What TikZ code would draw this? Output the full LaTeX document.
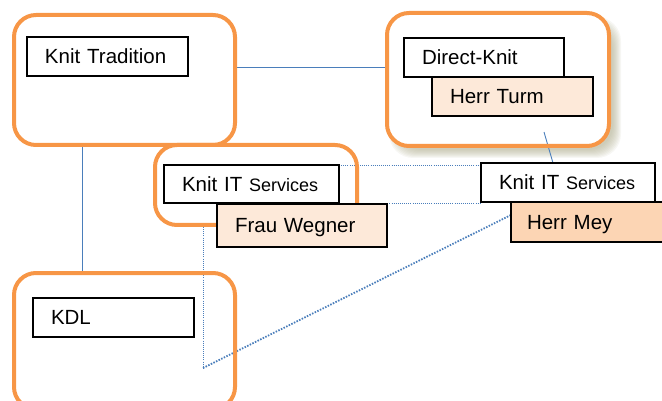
\documentclass[tikz,border=0pt]{standalone}
\usepackage{fontspec}
\setmainfont{Liberation Sans}
\usetikzlibrary{shadows}

\definecolor{frameorange}{HTML}{F79646}
\definecolor{linkblue}{HTML}{4A7EBB}
\definecolor{paleorange}{HTML}{FDE9D9}
\definecolor{lightorange}{HTML}{FCD5B4}
\definecolor{shadowc}{RGB}{170,168,135}

\pgfdeclarelayer{bg}
\pgfdeclarelayer{wires}
\pgfsetlayers{bg,wires,main}

\newcommand\boxfont{\fontsize{20.5}{24}\selectfont}
\newcommand\minorword[1]{{\fontsize{18}{22}\selectfont #1}}

\tikzset{
  frame/.style={draw=frameorange, line width=4pt, rounded corners=22pt,
    outer sep=0pt, inner sep=0pt, anchor=north west},
  namebox/.style={draw=black, line width=1.1pt, fill=white, anchor=north west,
    inner xsep=18pt, inner ysep=0pt, align=left, font=\boxfont, outer sep=0pt,
    text height=14.7pt, text depth=0pt,
    drop shadow={shadow xshift=1pt, shadow yshift=-1pt, fill=black!70, opacity=1}},
  link/.style={draw=linkblue, line width=0.9pt},
  thindots/.style={draw=linkblue, line width=0.7pt, dash pattern=on 0.9pt off 1.2pt},
  densedots/.style={draw=linkblue, line width=1.8pt, dash pattern=on 1.5pt off 1.4pt},
}

\begin{document}
\begin{tikzpicture}[x=1pt, y=-1pt]
\useasboundingbox (0,0) rectangle (662,401);
\clip (0,0) rectangle (662,401);

% organisation frames
\node[frame, minimum width=221pt, minimum height=130pt] (c1) at (14,15) {};
\node[frame, minimum width=222pt, minimum height=133pt] (c2) at (387,13) {};
\node[frame, minimum width=202pt, minimum height=80pt] (c3) at (155,145) {};
\node[frame, minimum width=221pt, minimum height=136pt] (c4) at (14,273) {};

% company and person labels
\node[namebox, text width=125pt, minimum height=39pt] (kt) at (27,37) {Knit Tradition};
\node[namebox, text width=124pt, minimum height=39pt] (dk) at (404,38) {Direct-Knit};
\node[namebox, fill=paleorange, text width=125pt, minimum height=39pt] (ht) at (432,77) {Herr Turm};
\node[namebox, text width=139pt, minimum height=38pt] (kitm) at (164,165) {Knit IT \minorword{Services}};
\node[namebox, fill=paleorange, text width=134pt, minimum height=43pt] (fw) at (217,204) {Frau Wegner};
\node[namebox, text width=138pt, minimum height=39pt] (kitr) at (481,163) {Knit IT \minorword{Services}};
\node[namebox, fill=lightorange, inner xsep=16pt, text width=140pt, minimum height=40pt] (hm) at (511,202) {Herr Mey};
\node[namebox, text width=125pt, minimum height=39pt] (kdl) at (33,298) {KDL};

% soft shadow under the Direct-Knit frame
\begin{pgfonlayer}{bg}
  \foreach \k in {0,...,8}
    \fill[shadowc, opacity=0.09, rounded corners=24pt] (397-\k,25-\k) rectangle (613+\k,150+\k);
  \fill[white, rounded corners=22pt] (c2.north west) rectangle (c2.south east);
\end{pgfonlayer}

% connectors
\begin{pgfonlayer}{wires}
  \coordinate (ktout) at ([yshift=13pt]c1.east);
  \draw[link] (ktout) -- (ktout -| c2.west);
  \coordinate (ktdown) at ([xshift=-42.5pt]c1.south);
  \draw[link] (ktdown) -- (ktdown |- c4.north);
  \coordinate (dkout) at ([xshift=46pt,yshift=14pt]c2.south);
  \draw[link] (dkout) -- ([xshift=-15pt]kitr.north);
  \draw[thindots] (kitm.north east) -- (kitm.north east -| kitr.west);
  \draw[thindots] (kitm.south east) -- (kitm.south east -| kitr.west);
  \coordinate (turn) at (203,368);
  \draw[thindots] (turn |- c3.south) -- (turn);
  \draw[densedots] (turn) -- ([yshift=7pt]hm.west);
\end{pgfonlayer}
\end{tikzpicture}
\end{document}
